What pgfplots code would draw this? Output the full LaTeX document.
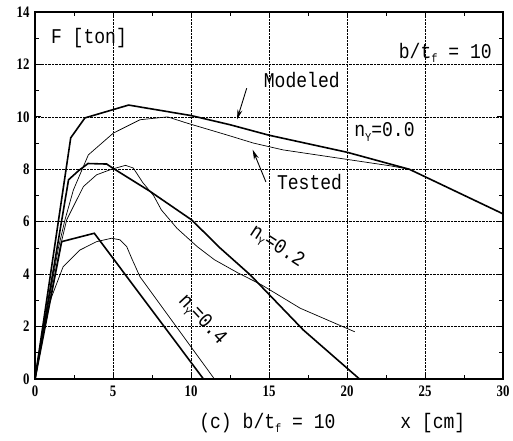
\documentclass[border=0pt]{standalone}
\usepackage{fontspec}
\setmainfont{Liberation Serif}
\newfontfamily\labfont[FakeStretch=0.86]{Liberation Mono}
\newfontfamily\tickfont[FakeStretch=0.8]{Liberation Serif}
\usepackage{pgfplots}
\pgfplotsset{compat=1.18}
\usetikzlibrary{arrows.meta}
\newcommand\sub[1]{\raisebox{-0.4ex}{\fontsize{12}{12}\selectfont #1}}
\begin{document}
\begin{tikzpicture}
\begin{axis}[
    scale only axis,
    width=468pt, height=367pt,
    xmin=0, xmax=30, ymin=0, ymax=14,
    xtick={0,5,...,30}, ytick={0,2,...,14},
    minor x tick num=1, minor y tick num=1,
    tick align=inside,
    major tick length=6pt, minor tick length=4pt,
    tick style={black, line width=0.8pt},
    axis line style={line width=1.4pt},
    grid=major,
    major grid style={densely dotted, black, line width=0.7pt},
    /pgf/number format/assume math mode=true,
    ticklabel style={font=\tickfont\bfseries\fontsize{16}{16}\selectfont},
    xticklabel style={yshift=-3pt},
    yticklabel style={xshift=-2pt},
    clip=false,
]
% modeled (thick)
\addplot[black, line width=1.6pt] coordinates {
    (0,0)(2.29,9.2)(3.2,9.96)(6.0,10.45)(8,10.25)(10,10.05)(12.5,9.7)(15,9.3)(20,8.65)(24,8.0)(30,6.3)};
\addplot[black, line width=1.6pt] coordinates {
    (0,0)(2.15,7.6)(2.8,7.95)(3.4,8.22)(4.6,8.2)(5.0,8.04)(7.37,7.16)(10.04,6.07)(11.86,5.0)(13.8,3.97)(17.2,1.87)(20.8,0)(21.3,0)};
\addplot[black, line width=1.6pt] coordinates {
    (0,0)(1.71,5.24)(3.8,5.56)(10.8,0)(11.0,0)};
% tested (thin)
\addplot[black, line width=0.7pt] coordinates {
    (0,0)(1.5,5.0)(1.92,6.07)(2.46,7.21)(3.42,8.55)(5.02,9.38)(6.73,9.89)(8.5,10.0)(9.7,9.77)(12.3,9.31)(14.0,9.0)(15.9,8.74)(20.2,8.36)(22.8,8.13)(24,8.0)};
\addplot[black, line width=0.7pt] coordinates {
    (0,0)(1.6,5.0)(2.03,6.07)(3.1,7.34)(3.95,7.79)(4.9,8.0)(5.8,8.15)(6.3,8.05)(6.9,7.5)(7.6,7.0)(8.1,6.45)(9.1,5.75)(10.4,5.05)(11.5,4.55)(13.0,4.05)(14.5,3.6)(17.0,2.7)(20.5,1.8)};
\addplot[black, line width=0.7pt] coordinates {
    (0,0)(0.8,2.6)(1.07,3.14)(1.8,4.28)(2.88,4.92)(3.95,5.24)(4.91,5.37)(5.45,5.31)(5.88,5.05)(6.2,4.6)(6.73,3.9)(11.5,0)};
% annotations
\node[font=\labfont\fontsize{21}{21}\selectfont] at (axis cs:3.46,13.0) {F [ton]};
\node[font=\labfont\fontsize{21}{21}\selectfont] at (axis cs:26.3,12.45) {b/t\sub{f} = 10};
\node[font=\labfont\fontsize{21}{21}\selectfont] at (axis cs:17.1,11.4) {Modeled};
\node[font=\labfont\fontsize{21}{21}\selectfont] at (axis cs:17.6,7.5) {Tested};
\node[font=\labfont\fontsize{21}{21}\selectfont] at (axis cs:22.4,9.43) {n\sub{Y}=0.0};
\node[font=\labfont\fontsize{21}{21}\selectfont, rotate=-33] at (axis cs:15.5,5.05) {n\sub{Y}=0.2};
\node[font=\labfont\fontsize{21}{21}\selectfont, rotate=-47] at (axis cs:10.7,2.25) {n\sub{Y}=0.4};
\draw[line width=0.9pt, -{Stealth[length=10pt,width=5pt]}] (axis cs:13.57,11.09) -- (axis cs:12.95,9.9);
\draw[line width=0.9pt, -{Stealth[length=10pt,width=5pt]}] (axis cs:14.8,7.52) -- (axis cs:13.95,8.75);
\node[font=\labfont\fontsize{21}{21}\selectfont] at (axis cs:14.9,-1.68) {(c) b/t\sub{f} = 10};
\node[font=\labfont\fontsize{21}{21}\selectfont] at (axis cs:25.5,-1.68) {x [cm]};
\end{axis}
\pgfresetboundingbox
\path (current axis.south west) ++(-35pt,-61pt) rectangle ++(513pt,440pt);
\end{tikzpicture}
\end{document}
